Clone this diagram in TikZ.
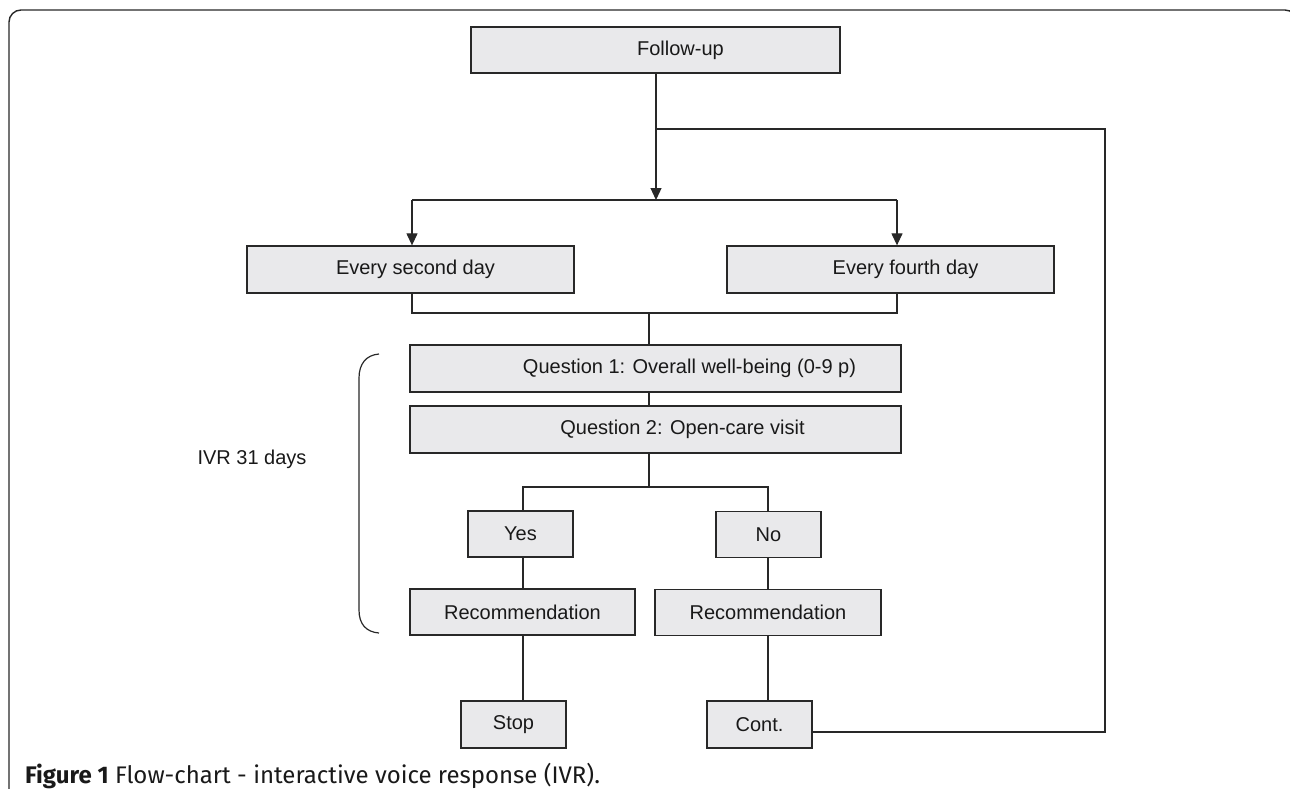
\documentclass[tikz,border=0pt]{standalone}
\usepackage{fontspec}
\setmainfont{Liberation Sans}
\newfontfamily\capfont{Fira Sans}
\usetikzlibrary{arrows.meta}
\definecolor{boxgray}{RGB}{233,233,235}
\definecolor{inkgray}{RGB}{40,40,40}
\tikzset{
	box/.style={draw=inkgray,line width=1.3pt,fill=boxgray,inner sep=0pt,text=black!90,font=\fontsize{20}{24}\selectfont},
	wire/.style={draw=inkgray,line width=1.2pt},
	arr/.style={wire,-{Triangle[width=11pt,length=12pt]}}
}

\begin{document}
\begin{tikzpicture}[x=1pt,y=-1pt]
	\useasboundingbox (0,0) rectangle (1290,788);
	
	% frame
	\draw[line width=1.4pt,inkgray,rounded corners=12pt] (9,792) -- (9,10) -- (1297,10) -- (1297,792);
	
	% boxes
	\node[box,minimum width=369pt,minimum height=46pt] (follow) at (655.5,50) {\hspace*{50pt}Follow-up};
	\node[box,minimum width=327pt,minimum height=47pt] (second) at (410.5,269.5) {\hspace*{10pt}Every second day};
	\node[box,minimum width=327pt,minimum height=47pt] (fourth) at (890.5,269.5) {\hspace*{30pt}Every fourth day};
	\node[box,minimum width=491pt,minimum height=47pt] (q1) at (655.5,368.5) {\hspace*{68pt}Question 1: Overall well-being (0-9 p)};
	\node[box,minimum width=491pt,minimum height=47pt] (q2) at (655.5,429.5) {\hspace*{54pt}Question 2: Open-care visit};
	\node[box,minimum width=105pt,minimum height=46pt] (yes) at (520.5,534) {Yes};
	\node[box,minimum width=105pt,minimum height=46pt] (no) at (768.5,534.5) {No};
	\node[box,minimum width=225pt,minimum height=46pt] (recyes) at (522.5,612) {Recommendation};
	\node[box,minimum width=226pt,minimum height=46pt] (recno) at (768,612.5) {Recommendation};
	\node[box,minimum width=105pt,minimum height=47pt] (stop) at (513.5,724.5) {Stop};
	\node[box,minimum width=105pt,minimum height=47pt] (cont) at (759.5,724.5) {Cont.};
	
	% branch points
	\coordinate (split) at (656,200);
	\coordinate (splitl) at (412,200);
	\coordinate (splitr) at (897,200);
	\coordinate (loop) at (656,129);
	\coordinate (loopr) at (1105,129);
	\coordinate (loopb) at (1105,732);
	\coordinate (joinl) at (412,313);
	\coordinate (joinr) at (897,313);
	\coordinate (joinm) at (649,313);
	\coordinate (fork) at (649,487);
	\coordinate (forkl) at (523,487);
	\coordinate (forkr) at (768,487);
	
	% connectors
	\draw[arr] (follow.south -| split) -- (split);
	\draw[wire] (splitl) -- (splitr);
	\draw[arr] (splitl) -- (splitl |- second.north);
	\draw[arr] (splitr) -- (splitr |- fourth.north);
	\draw[wire] (loop) -- (loopr) -- (loopb) -- (cont.east |- loopb);
	\draw[wire] (joinl |- second.south) -- (joinl) -- (joinr) -- (joinr |- fourth.south);
	\draw[wire] (joinm) -- (joinm |- q1.north);
	\draw[wire] (q1.south -| joinm) -- (q2.north -| joinm);
	\draw[wire] (q2.south -| fork) -- (fork);
	\draw[wire] (forkl |- yes.north) -- (forkl) -- (forkr) -- (forkr |- no.north);
	\draw[wire] (yes.south -| forkl) -- (recyes.north -| forkl);
	\draw[wire] (no.south -| forkr) -- (recno.north -| forkr);
	\draw[wire] (recyes.south -| forkl) -- (stop.north -| forkl);
	\draw[wire] (recno.south -| forkr) -- (cont.north -| forkr);
	
	% bracket
	\draw[wire] (379,354) .. controls (366,355) and (359,364) .. (359,378) -- (359,610) .. controls (359,624) and (366,632) .. (379,633);
	\node[text=black!90,font=\fontsize{20}{24}\selectfont] (ivr) at (252,459) {IVR 31 days};
	
	% caption
	\node[anchor=west,inner sep=0pt,text=black!90,font=\capfont\fontsize{24}{28}\selectfont] (caption) at (25,776) {\textbf{Figure 1} Flow-chart - interactive voice response (IVR).};
	
\end{tikzpicture}
\end{document}
